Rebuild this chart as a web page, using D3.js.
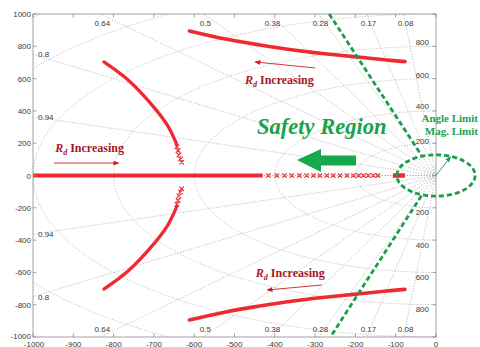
<!DOCTYPE html>
<html>
<head>
<meta charset="utf-8">
<script src="https://cdn.jsdelivr.net/npm/d3@7"></script>
<style>
  body { margin: 0; background: #fff; }
  svg { display: block; }
</style>
</head>
<body>
<div id="chart"></div>
<script>
var xTicks = [-1000, -900, -800, -700, -600, -500, -400, -300, -200, -100, 0];
var yTicks = [-1000, -800, -600, -400, -200, 0, 200, 400, 600, 800, 1000];
var zetas = [0.94, 0.8, 0.64, 0.5, 0.38, 0.28, 0.17, 0.08];
var wns = [200, 400, 600, 800, 1000, 1200, 1400];
var wnLabels = [200, 400, 600, 800];

var upperBranch = [[-612, 895], [-519, 843], [-437, 808], [-354, 777], [-288, 757], [-205, 736], [-122, 715], [-77, 705]];
var lowerBranch = [[-612, -895], [-519, -843], [-437, -808], [-354, -777], [-288, -757], [-205, -736], [-122, -715], [-77, -705]];
var arcUpper = [[-824, 703], [-764, 591], [-705, 437], [-667, 313], [-648, 220], [-643, 189]];
var arcLower = [[-824, -703], [-764, -591], [-705, -437], [-667, -313], [-648, -220], [-643, -189]];
var arcUpperDots = [[-643, 178], [-640, 154], [-638, 127], [-634, 102], [-631, 82]];
var arcLowerDots = [[-643, -178], [-640, -154], [-638, -127], [-634, -102], [-631, -82]];
var realDense = [-1000, -430];
var realBar = [-107, -77];
var realSparse = [-416, -395, -376, -358, -339, -321, -304, -288, -271, -255, -238, -221, -205, -192, -180, -168, -155, -144];

var angleLimitTop = [[-265, 1000], [-36, 125]];
var angleLimitBottom = [[-36, -125], [-262, -1000]];
var magLimitR = [97, 128];
var magArrow = [[0, 0], [36, 116]];

// set the dimensions and margins of the graph
var W = 480, H = 347;
var margin = {top: 14, right: 44, bottom: 10, left: 33};

var svg = d3.select("#chart")
  .append("svg")
    .attr("width", W)
    .attr("height", H);

var x = d3.scaleLinear().domain([-1000, 0]).range([margin.left, W - margin.right]);
var y = d3.scaleLinear().domain([-1000, 1000]).range([H - margin.bottom, margin.top]);

var defs = svg.append("defs");
defs.append("clipPath").attr("id", "plotClip")
  .append("rect")
    .attr("x", x(-1000)).attr("y", y(1000))
    .attr("width", x(0) - x(-1000)).attr("height", y(-1000) - y(1000));

function arrowMarker(id, color) {
  defs.append("marker")
      .attr("id", id)
      .attr("viewBox", "0 0 10 10")
      .attr("refX", 9).attr("refY", 5)
      .attr("markerWidth", 6).attr("markerHeight", 6)
      .attr("markerUnits", "userSpaceOnUse")
      .attr("orient", "auto")
    .append("path")
      .attr("d", "M0,1 L10,5 L0,9 Z")
      .attr("fill", color);
}
arrowMarker("redHead", "#c8202a");
arrowMarker("greenHead", "#1a9e4a");

var plot = svg.append("g").attr("clip-path", "url(#plotClip)");

// sgrid: damping lines and wn ellipses
var grid = plot.append("g")
  .attr("fill", "none")
  .attr("stroke", "#a3a3a3")
  .attr("stroke-width", 0.7)
  .attr("stroke-dasharray", "1.2,1.6");

zetas.concat([1]).forEach(function(z) {
  var R = 3000, s = Math.sqrt(1 - z * z);
  [1, -1].forEach(function(sign) {
    grid.append("line")
      .attr("x1", x(0)).attr("y1", y(0))
      .attr("x2", x(-R * z)).attr("y2", y(sign * R * s));
  });
});
wns.forEach(function(wn) {
  var rx = x(0) - x(-wn), ry = y(0) - y(wn);
  grid.append("path")
    .attr("d", "M" + x(0) + "," + y(wn) + " A" + rx + "," + ry + " 0 0 0 " + x(0) + "," + y(-wn));
});

// locus
var line = d3.line()
  .x(function(d) { return x(d[0]); })
  .y(function(d) { return y(d[1]); })
  .curve(d3.curveCatmullRom);

var locus = plot.append("g")
  .attr("fill", "none")
  .attr("stroke", "#ee2a30")
  .attr("stroke-linecap", "round");

[upperBranch, lowerBranch].forEach(function(b) {
  locus.append("path").attr("d", line(b)).attr("stroke-width", 3.6);
});
[arcUpper, arcLower].forEach(function(b) {
  locus.append("path").attr("d", line(b)).attr("stroke-width", 3.3);
});
locus.append("line")
  .attr("x1", x(realDense[0])).attr("x2", x(realDense[1]))
  .attr("y1", y(0)).attr("y2", y(0))
  .attr("stroke-width", 4).attr("stroke-linecap", "butt");
locus.append("line")
  .attr("x1", x(realBar[0])).attr("x2", x(realBar[1]))
  .attr("y1", y(0)).attr("y2", y(0))
  .attr("stroke-width", 4.5).attr("stroke-linecap", "butt");

var sym = d3.symbol().type(d3.symbolX).size(11);
var dots = arcUpperDots.concat(arcLowerDots).concat(realSparse.map(function(v) { return [v, 0]; }));
locus.selectAll(".dot")
  .data(dots)
  .enter()
  .append("path")
    .attr("class", "dot")
    .attr("d", sym)
    .attr("transform", function(d) { return "translate(" + x(d[0]) + "," + y(d[1]) + ")"; })
    .attr("stroke", "#e8333a")
    .attr("stroke-width", 1.3);

// axes box and ticks
var axisColor = "#8c8c8c";
svg.append("rect")
  .attr("x", x(-1000)).attr("y", y(1000))
  .attr("width", x(0) - x(-1000)).attr("height", y(-1000) - y(1000))
  .attr("fill", "none").attr("stroke", axisColor).attr("stroke-width", 0.8);

var ticks = svg.append("g").attr("stroke", axisColor).attr("stroke-width", 0.8);
xTicks.forEach(function(t) {
  ticks.append("line").attr("x1", x(t)).attr("x2", x(t)).attr("y1", y(-1000)).attr("y2", y(-1000) - 3.5);
  ticks.append("line").attr("x1", x(t)).attr("x2", x(t)).attr("y1", y(1000)).attr("y2", y(1000) + 3.5);
});
yTicks.forEach(function(t) {
  ticks.append("line").attr("x1", x(-1000)).attr("x2", x(-1000) + 3.5).attr("y1", y(t)).attr("y2", y(t));
  ticks.append("line").attr("x1", x(0)).attr("x2", x(0) - 3.5).attr("y1", y(t)).attr("y2", y(t));
});

var labels = svg.append("g")
  .attr("font-family", "Liberation Sans, Arial, sans-serif")
  .attr("font-size", 8)
  .attr("fill", "#3a3a3a");

xTicks.forEach(function(t) {
  labels.append("text")
    .attr("x", x(t) + (t === -1000 ? 1 : 0)).attr("y", 346.5)
    .attr("text-anchor", "middle")
    .text(t);
});
yTicks.forEach(function(t) {
  labels.append("text")
    .attr("x", x(-1000) - 2).attr("y", y(t) + (t === -1000 ? 1.5 : 3))
    .attr("text-anchor", "end")
    .text(t);
});

// damping ratio labels
zetas.forEach(function(z) {
  var k = Math.sqrt(1 - z * z) / z;
  if (k * 1000 < 1000) {
    // hits the left edge
    var yy = 1000 * k;
    [1, -1].forEach(function(sign) {
      labels.append("text")
        .attr("x", x(-1000) + 5).attr("y", y(sign * yy) + 3)
        .text(z);
    });
  } else {
    var xx = -1000 / k;
    labels.append("text")
      .attr("x", x(xx) + 2).attr("y", 26)
      .attr("text-anchor", "middle").text(z);
    labels.append("text")
      .attr("x", x(xx) + 2).attr("y", 332)
      .attr("text-anchor", "middle").text(z);
  }
});

// natural frequency labels (nudged where they meet the green captions)
var wnNudge = {200: 1.2, 400: -2, 600: -1, 800: -1};
wnLabels.forEach(function(wn) {
  labels.append("text")
    .attr("x", x(0) - 7).attr("y", y(wn) + wnNudge[wn])
    .attr("text-anchor", "end").text(wn);
  labels.append("text")
    .attr("x", x(0) - 7).attr("y", y(-wn) + 7.5)
    .attr("text-anchor", "end").text(wn);
});

// green limits
var green = "#1a9e4a";
var lim = svg.append("g")
  .attr("fill", "none")
  .attr("stroke", green)
  .attr("stroke-width", 2.8)
  .attr("stroke-dasharray", "5,3");
[angleLimitTop, angleLimitBottom].forEach(function(l) {
  lim.append("line")
    .attr("x1", x(l[0][0])).attr("y1", y(l[0][1]))
    .attr("x2", x(l[1][0])).attr("y2", y(l[1][1]));
});
lim.append("ellipse")
  .attr("cx", x(0)).attr("cy", y(0))
  .attr("rx", x(0) - x(-magLimitR[0]))
  .attr("ry", y(0) - y(magLimitR[1]));

svg.append("line")
  .attr("x1", x(magArrow[0][0])).attr("y1", y(magArrow[0][1]))
  .attr("x2", x(magArrow[1][0])).attr("y2", y(magArrow[1][1]))
  .attr("stroke", green).attr("stroke-width", 0.9)
  .attr("marker-end", "url(#greenHead)");

// big arrow pointing left
var tipX = x(-345), tipY = y(96);
svg.append("path")
  .attr("d", "M" + tipX + "," + tipY +
    " l24,-11 l0,6.5 l35,0 l0,10 l-35,0 l0,6.5 Z")
  .attr("fill", "#16a84a");

// text annotations
var serif = "Liberation Serif, Times New Roman, serif";
svg.append("text")
  .attr("x", x(-444)).attr("y", y(257))
  .attr("font-family", serif)
  .attr("font-size", 22.5)
  .attr("font-weight", "bold")
  .attr("font-style", "italic")
  .attr("fill", "#17a34a")
  .text("Safety Region");

svg.append("text")
  .attr("x", 478).attr("y", 121.5)
  .attr("text-anchor", "end")
  .attr("font-family", serif).attr("font-size", 11).attr("font-weight", "bold")
  .attr("fill", "#1aa34e")
  .text("Angle Limit");
svg.append("text")
  .attr("x", 478).attr("y", 134.5)
  .attr("text-anchor", "end")
  .attr("font-family", serif).attr("font-size", 11).attr("font-weight", "bold")
  .attr("fill", "#1aa34e")
  .text("Mag. Limit");

function rdLabel(px, py) {
  var t = svg.append("text")
    .attr("x", x(px)).attr("y", y(py))
    .attr("font-family", serif)
    .attr("font-size", 12)
    .attr("font-weight", "bold")
    .attr("fill", "#a8161e");
  t.append("tspan").attr("font-style", "italic").text("R");
  t.append("tspan").attr("font-style", "italic").attr("font-size", 8).attr("dy", 3).text("d");
  t.append("tspan").attr("dy", -3).text(" Increasing");
}
rdLabel(-474, 567);
rdLabel(-945, 146);
rdLabel(-447, -628);

function redArrow(a, b) {
  svg.append("line")
    .attr("x1", x(a[0])).attr("y1", y(a[1]))
    .attr("x2", x(b[0])).attr("y2", y(b[1]))
    .attr("stroke", "#c8202a").attr("stroke-width", 0.9)
    .attr("marker-end", "url(#redHead)");
}
redArrow([-300, 666], [-449, 703]);
redArrow([-948, 77], [-787, 77]);
redArrow([-283, -678], [-419, -709]);
</script>
</body>
</html>
